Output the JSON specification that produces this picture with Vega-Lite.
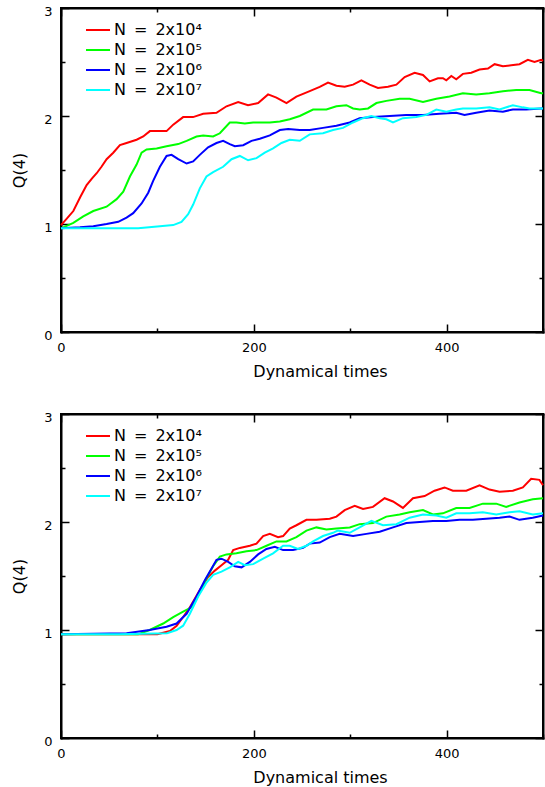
{
"$schema": "https://vega.github.io/schema/vega-lite/v6.json",
"background": "white",
"padding": {"left": 10, "top": 4, "right": 0, "bottom": 0},
"spacing": 30,
"config": {
  "font": "DejaVu Sans",
  "view": {"stroke": "black", "strokeWidth": 2},
  "axis": {"grid": false, "domainColor": "black", "domainWidth": 2, "domainCap": "square", "tickColor": "black", "tickWidth": 1.5, "labelColor": "black", "titleColor": "black", "labelFont": "DejaVu Sans", "labelFontSize": 13, "titleFont": "DejaVu Sans", "titleFontSize": 16, "titleFontWeight": "normal", "labelFlush": false, "labelOverlap": false},
  "legend": {"title": null, "symbolType": "M-2,0H2", "symbolSize": 144, "symbolStrokeWidth": 2, "labelFontSize": 16, "labelFont": "DejaVu Sans", "labelOffset": 8, "rowPadding": 4, "padding": 0, "labelColor": "black", "labelLimit": 300, "orient": "none", "legendX": 29, "legendY": 14}
},
"datasets": {
"top": [
{"s":"N\u2002=\u20022x10\u2074","t":0,"Q":0.99},{"s":"N\u2002=\u20022x10\u2074","t":6,"Q":1.05},{"s":"N\u2002=\u20022x10\u2074","t":12.8,"Q":1.12},{"s":"N\u2002=\u20022x10\u2074","t":20,"Q":1.25},{"s":"N\u2002=\u20022x10\u2074","t":26.6,"Q":1.36},{"s":"N\u2002=\u20022x10\u2074","t":32,"Q":1.42},{"s":"N\u2002=\u20022x10\u2074","t":37,"Q":1.47},{"s":"N\u2002=\u20022x10\u2074","t":42,"Q":1.53},{"s":"N\u2002=\u20022x10\u2074","t":47.3,"Q":1.6},{"s":"N\u2002=\u20022x10\u2074","t":54.2,"Q":1.66},{"s":"N\u2002=\u20022x10\u2074","t":61.1,"Q":1.73},{"s":"N\u2002=\u20022x10\u2074","t":68,"Q":1.75},{"s":"N\u2002=\u20022x10\u2074","t":78.4,"Q":1.78},{"s":"N\u2002=\u20022x10\u2074","t":85.3,"Q":1.81},{"s":"N\u2002=\u20022x10\u2074","t":92.2,"Q":1.86},{"s":"N\u2002=\u20022x10\u2074","t":99.2,"Q":1.86},{"s":"N\u2002=\u20022x10\u2074","t":109.5,"Q":1.86},{"s":"N\u2002=\u20022x10\u2074","t":116.4,"Q":1.92},{"s":"N\u2002=\u20022x10\u2074","t":126.7,"Q":1.99},{"s":"N\u2002=\u20022x10\u2074","t":137,"Q":1.99},{"s":"N\u2002=\u20022x10\u2074","t":147.5,"Q":2.02},{"s":"N\u2002=\u20022x10\u2074","t":161.3,"Q":2.03},{"s":"N\u2002=\u20022x10\u2074","t":171.7,"Q":2.09},{"s":"N\u2002=\u20022x10\u2074","t":183.8,"Q":2.13},{"s":"N\u2002=\u20022x10\u2074","t":194,"Q":2.1},{"s":"N\u2002=\u20022x10\u2074","t":204.5,"Q":2.12},{"s":"N\u2002=\u20022x10\u2074","t":214.8,"Q":2.2},{"s":"N\u2002=\u20022x10\u2074","t":223.5,"Q":2.17},{"s":"N\u2002=\u20022x10\u2074","t":233.9,"Q":2.12},{"s":"N\u2002=\u20022x10\u2074","t":244.2,"Q":2.18},{"s":"N\u2002=\u20022x10\u2074","t":258,"Q":2.23},{"s":"N\u2002=\u20022x10\u2074","t":268.4,"Q":2.27},{"s":"N\u2002=\u20022x10\u2074","t":277,"Q":2.31},{"s":"N\u2002=\u20022x10\u2074","t":285.7,"Q":2.28},{"s":"N\u2002=\u20022x10\u2074","t":294.3,"Q":2.27},{"s":"N\u2002=\u20022x10\u2074","t":303,"Q":2.29},{"s":"N\u2002=\u20022x10\u2074","t":311.6,"Q":2.33},{"s":"N\u2002=\u20022x10\u2074","t":320.2,"Q":2.29},{"s":"N\u2002=\u20022x10\u2074","t":328.8,"Q":2.26},{"s":"N\u2002=\u20022x10\u2074","t":339.2,"Q":2.27},{"s":"N\u2002=\u20022x10\u2074","t":347.9,"Q":2.29},{"s":"N\u2002=\u20022x10\u2074","t":356.5,"Q":2.36},{"s":"N\u2002=\u20022x10\u2074","t":366.8,"Q":2.4},{"s":"N\u2002=\u20022x10\u2074","t":375.5,"Q":2.38},{"s":"N\u2002=\u20022x10\u2074","t":382.4,"Q":2.32},{"s":"N\u2002=\u20022x10\u2074","t":391,"Q":2.35},{"s":"N\u2002=\u20022x10\u2074","t":396.2,"Q":2.35},{"s":"N\u2002=\u20022x10\u2074","t":399.7,"Q":2.33},{"s":"N\u2002=\u20022x10\u2074","t":404.9,"Q":2.37},{"s":"N\u2002=\u20022x10\u2074","t":410,"Q":2.34},{"s":"N\u2002=\u20022x10\u2074","t":416.9,"Q":2.39},{"s":"N\u2002=\u20022x10\u2074","t":425.6,"Q":2.4},{"s":"N\u2002=\u20022x10\u2074","t":434.2,"Q":2.43},{"s":"N\u2002=\u20022x10\u2074","t":442.9,"Q":2.44},{"s":"N\u2002=\u20022x10\u2074","t":449.8,"Q":2.48},{"s":"N\u2002=\u20022x10\u2074","t":458.4,"Q":2.46},{"s":"N\u2002=\u20022x10\u2074","t":467,"Q":2.47},{"s":"N\u2002=\u20022x10\u2074","t":475.6,"Q":2.48},{"s":"N\u2002=\u20022x10\u2074","t":484.3,"Q":2.52},{"s":"N\u2002=\u20022x10\u2074","t":491.2,"Q":2.5},{"s":"N\u2002=\u20022x10\u2074","t":498.1,"Q":2.52},{"s":"N\u2002=\u20022x10\u2074","t":500,"Q":2.51},
{"s":"N\u2002=\u20022x10\u2075","t":0,"Q":0.96},{"s":"N\u2002=\u20022x10\u2075","t":12.8,"Q":1.01},{"s":"N\u2002=\u20022x10\u2075","t":23.1,"Q":1.07},{"s":"N\u2002=\u20022x10\u2075","t":33.5,"Q":1.12},{"s":"N\u2002=\u20022x10\u2075","t":47.3,"Q":1.16},{"s":"N\u2002=\u20022x10\u2075","t":57.7,"Q":1.23},{"s":"N\u2002=\u20022x10\u2075","t":64.6,"Q":1.3},{"s":"N\u2002=\u20022x10\u2075","t":71.5,"Q":1.44},{"s":"N\u2002=\u20022x10\u2075","t":78.4,"Q":1.55},{"s":"N\u2002=\u20022x10\u2075","t":83.6,"Q":1.66},{"s":"N\u2002=\u20022x10\u2075","t":88.8,"Q":1.69},{"s":"N\u2002=\u20022x10\u2075","t":99.2,"Q":1.7},{"s":"N\u2002=\u20022x10\u2075","t":109.5,"Q":1.72},{"s":"N\u2002=\u20022x10\u2075","t":121.6,"Q":1.74},{"s":"N\u2002=\u20022x10\u2075","t":130.3,"Q":1.77},{"s":"N\u2002=\u20022x10\u2075","t":140.6,"Q":1.81},{"s":"N\u2002=\u20022x10\u2075","t":147.5,"Q":1.82},{"s":"N\u2002=\u20022x10\u2075","t":157.8,"Q":1.81},{"s":"N\u2002=\u20022x10\u2075","t":164.8,"Q":1.84},{"s":"N\u2002=\u20022x10\u2075","t":175.1,"Q":1.94},{"s":"N\u2002=\u20022x10\u2075","t":182,"Q":1.94},{"s":"N\u2002=\u20022x10\u2075","t":190.7,"Q":1.93},{"s":"N\u2002=\u20022x10\u2075","t":199.3,"Q":1.94},{"s":"N\u2002=\u20022x10\u2075","t":209.7,"Q":1.94},{"s":"N\u2002=\u20022x10\u2075","t":216.6,"Q":1.94},{"s":"N\u2002=\u20022x10\u2075","t":227,"Q":1.95},{"s":"N\u2002=\u20022x10\u2075","t":237.3,"Q":1.97},{"s":"N\u2002=\u20022x10\u2075","t":247.7,"Q":2.0},{"s":"N\u2002=\u20022x10\u2075","t":261.5,"Q":2.06},{"s":"N\u2002=\u20022x10\u2075","t":275.3,"Q":2.06},{"s":"N\u2002=\u20022x10\u2075","t":285.7,"Q":2.09},{"s":"N\u2002=\u20022x10\u2075","t":296,"Q":2.1},{"s":"N\u2002=\u20022x10\u2075","t":303,"Q":2.07},{"s":"N\u2002=\u20022x10\u2075","t":309.9,"Q":2.06},{"s":"N\u2002=\u20022x10\u2075","t":318.5,"Q":2.07},{"s":"N\u2002=\u20022x10\u2075","t":327.2,"Q":2.12},{"s":"N\u2002=\u20022x10\u2075","t":337.5,"Q":2.14},{"s":"N\u2002=\u20022x10\u2075","t":351.3,"Q":2.16},{"s":"N\u2002=\u20022x10\u2075","t":361.7,"Q":2.16},{"s":"N\u2002=\u20022x10\u2075","t":375.5,"Q":2.13},{"s":"N\u2002=\u20022x10\u2075","t":389.3,"Q":2.16},{"s":"N\u2002=\u20022x10\u2075","t":403.1,"Q":2.18},{"s":"N\u2002=\u20022x10\u2075","t":416.9,"Q":2.21},{"s":"N\u2002=\u20022x10\u2075","t":430.7,"Q":2.2},{"s":"N\u2002=\u20022x10\u2075","t":444.5,"Q":2.21},{"s":"N\u2002=\u20022x10\u2075","t":458.4,"Q":2.23},{"s":"N\u2002=\u20022x10\u2075","t":472.2,"Q":2.24},{"s":"N\u2002=\u20022x10\u2075","t":486,"Q":2.24},{"s":"N\u2002=\u20022x10\u2075","t":498.1,"Q":2.21},{"s":"N\u2002=\u20022x10\u2075","t":500,"Q":2.21},
{"s":"N\u2002=\u20022x10\u2076","t":0,"Q":0.96},{"s":"N\u2002=\u20022x10\u2076","t":19.7,"Q":0.97},{"s":"N\u2002=\u20022x10\u2076","t":33.5,"Q":0.98},{"s":"N\u2002=\u20022x10\u2076","t":47.3,"Q":1.0},{"s":"N\u2002=\u20022x10\u2076","t":59.4,"Q":1.02},{"s":"N\u2002=\u20022x10\u2076","t":68,"Q":1.06},{"s":"N\u2002=\u20022x10\u2076","t":74.9,"Q":1.1},{"s":"N\u2002=\u20022x10\u2076","t":83.6,"Q":1.19},{"s":"N\u2002=\u20022x10\u2076","t":90.5,"Q":1.29},{"s":"N\u2002=\u20022x10\u2076","t":95.6,"Q":1.4},{"s":"N\u2002=\u20022x10\u2076","t":102.6,"Q":1.53},{"s":"N\u2002=\u20022x10\u2076","t":109.5,"Q":1.63},{"s":"N\u2002=\u20022x10\u2076","t":114.7,"Q":1.64},{"s":"N\u2002=\u20022x10\u2076","t":121.6,"Q":1.6},{"s":"N\u2002=\u20022x10\u2076","t":130.3,"Q":1.56},{"s":"N\u2002=\u20022x10\u2076","t":137.1,"Q":1.58},{"s":"N\u2002=\u20022x10\u2076","t":144,"Q":1.64},{"s":"N\u2002=\u20022x10\u2076","t":152.6,"Q":1.71},{"s":"N\u2002=\u20022x10\u2076","t":161.3,"Q":1.75},{"s":"N\u2002=\u20022x10\u2076","t":168.2,"Q":1.77},{"s":"N\u2002=\u20022x10\u2076","t":175.1,"Q":1.74},{"s":"N\u2002=\u20022x10\u2076","t":180.3,"Q":1.72},{"s":"N\u2002=\u20022x10\u2076","t":189,"Q":1.73},{"s":"N\u2002=\u20022x10\u2076","t":197.6,"Q":1.77},{"s":"N\u2002=\u20022x10\u2076","t":206.2,"Q":1.79},{"s":"N\u2002=\u20022x10\u2076","t":216.6,"Q":1.82},{"s":"N\u2002=\u20022x10\u2076","t":227,"Q":1.87},{"s":"N\u2002=\u20022x10\u2076","t":235.6,"Q":1.88},{"s":"N\u2002=\u20022x10\u2076","t":247.7,"Q":1.87},{"s":"N\u2002=\u20022x10\u2076","t":258,"Q":1.87},{"s":"N\u2002=\u20022x10\u2076","t":271.8,"Q":1.89},{"s":"N\u2002=\u20022x10\u2076","t":285.7,"Q":1.91},{"s":"N\u2002=\u20022x10\u2076","t":299.5,"Q":1.94},{"s":"N\u2002=\u20022x10\u2076","t":309.8,"Q":1.98},{"s":"N\u2002=\u20022x10\u2076","t":323.6,"Q":1.99},{"s":"N\u2002=\u20022x10\u2076","t":340.9,"Q":2.0},{"s":"N\u2002=\u20022x10\u2076","t":358.2,"Q":2.01},{"s":"N\u2002=\u20022x10\u2076","t":375.5,"Q":2.01},{"s":"N\u2002=\u20022x10\u2076","t":392.7,"Q":2.02},{"s":"N\u2002=\u20022x10\u2076","t":410,"Q":2.03},{"s":"N\u2002=\u20022x10\u2076","t":418.6,"Q":2.01},{"s":"N\u2002=\u20022x10\u2076","t":430.7,"Q":2.03},{"s":"N\u2002=\u20022x10\u2076","t":444.5,"Q":2.05},{"s":"N\u2002=\u20022x10\u2076","t":458.4,"Q":2.04},{"s":"N\u2002=\u20022x10\u2076","t":468.7,"Q":2.06},{"s":"N\u2002=\u20022x10\u2076","t":482.6,"Q":2.06},{"s":"N\u2002=\u20022x10\u2076","t":498.1,"Q":2.07},{"s":"N\u2002=\u20022x10\u2076","t":500,"Q":2.07},
{"s":"N\u2002=\u20022x10\u2077","t":0,"Q":0.96},{"s":"N\u2002=\u20022x10\u2077","t":40,"Q":0.96},{"s":"N\u2002=\u20022x10\u2077","t":80,"Q":0.96},{"s":"N\u2002=\u20022x10\u2077","t":102.6,"Q":0.98},{"s":"N\u2002=\u20022x10\u2077","t":116.4,"Q":0.99},{"s":"N\u2002=\u20022x10\u2077","t":125,"Q":1.02},{"s":"N\u2002=\u20022x10\u2077","t":131.9,"Q":1.09},{"s":"N\u2002=\u20022x10\u2077","t":137.1,"Q":1.18},{"s":"N\u2002=\u20022x10\u2077","t":144,"Q":1.33},{"s":"N\u2002=\u20022x10\u2077","t":150.9,"Q":1.44},{"s":"N\u2002=\u20022x10\u2077","t":157.8,"Q":1.48},{"s":"N\u2002=\u20022x10\u2077","t":168.2,"Q":1.53},{"s":"N\u2002=\u20022x10\u2077","t":176.9,"Q":1.6},{"s":"N\u2002=\u20022x10\u2077","t":185.5,"Q":1.63},{"s":"N\u2002=\u20022x10\u2077","t":194.1,"Q":1.59},{"s":"N\u2002=\u20022x10\u2077","t":202.8,"Q":1.61},{"s":"N\u2002=\u20022x10\u2077","t":211.4,"Q":1.66},{"s":"N\u2002=\u20022x10\u2077","t":220,"Q":1.7},{"s":"N\u2002=\u20022x10\u2077","t":228.7,"Q":1.75},{"s":"N\u2002=\u20022x10\u2077","t":237.3,"Q":1.78},{"s":"N\u2002=\u20022x10\u2077","t":247.7,"Q":1.77},{"s":"N\u2002=\u20022x10\u2077","t":258,"Q":1.83},{"s":"N\u2002=\u20022x10\u2077","t":271.8,"Q":1.84},{"s":"N\u2002=\u20022x10\u2077","t":282.2,"Q":1.87},{"s":"N\u2002=\u20022x10\u2077","t":292.5,"Q":1.89},{"s":"N\u2002=\u20022x10\u2077","t":302.9,"Q":1.94},{"s":"N\u2002=\u20022x10\u2077","t":313.3,"Q":1.98},{"s":"N\u2002=\u20022x10\u2077","t":321.9,"Q":2.0},{"s":"N\u2002=\u20022x10\u2077","t":330.6,"Q":1.98},{"s":"N\u2002=\u20022x10\u2077","t":337.5,"Q":1.97},{"s":"N\u2002=\u20022x10\u2077","t":344.4,"Q":1.94},{"s":"N\u2002=\u20022x10\u2077","t":354.7,"Q":1.98},{"s":"N\u2002=\u20022x10\u2077","t":368.6,"Q":1.99},{"s":"N\u2002=\u20022x10\u2077","t":379,"Q":2.01},{"s":"N\u2002=\u20022x10\u2077","t":389.3,"Q":2.06},{"s":"N\u2002=\u20022x10\u2077","t":399.7,"Q":2.04},{"s":"N\u2002=\u20022x10\u2077","t":410,"Q":2.06},{"s":"N\u2002=\u20022x10\u2077","t":416.9,"Q":2.07},{"s":"N\u2002=\u20022x10\u2077","t":430.7,"Q":2.07},{"s":"N\u2002=\u20022x10\u2077","t":444.5,"Q":2.08},{"s":"N\u2002=\u20022x10\u2077","t":454.9,"Q":2.06},{"s":"N\u2002=\u20022x10\u2077","t":468.7,"Q":2.1},{"s":"N\u2002=\u20022x10\u2077","t":479.1,"Q":2.08},{"s":"N\u2002=\u20022x10\u2077","t":486,"Q":2.07},{"s":"N\u2002=\u20022x10\u2077","t":498.1,"Q":2.07},{"s":"N\u2002=\u20022x10\u2077","t":500,"Q":2.07}
],
"bottom": [
{"s":"N\u2002=\u20022x10\u2074","t":0,"Q":0.96},{"s":"N\u2002=\u20022x10\u2074","t":100,"Q":0.96},{"s":"N\u2002=\u20022x10\u2074","t":113,"Q":0.99},{"s":"N\u2002=\u20022x10\u2074","t":120,"Q":1.04},{"s":"N\u2002=\u20022x10\u2074","t":126.7,"Q":1.12},{"s":"N\u2002=\u20022x10\u2074","t":133.7,"Q":1.21},{"s":"N\u2002=\u20022x10\u2074","t":144,"Q":1.37},{"s":"N\u2002=\u20022x10\u2074","t":152.6,"Q":1.49},{"s":"N\u2002=\u20022x10\u2074","t":159.6,"Q":1.55},{"s":"N\u2002=\u20022x10\u2074","t":166.5,"Q":1.6},{"s":"N\u2002=\u20022x10\u2074","t":173.4,"Q":1.65},{"s":"N\u2002=\u20022x10\u2074","t":178.6,"Q":1.74},{"s":"N\u2002=\u20022x10\u2074","t":185.5,"Q":1.76},{"s":"N\u2002=\u20022x10\u2074","t":195.9,"Q":1.78},{"s":"N\u2002=\u20022x10\u2074","t":202.8,"Q":1.8},{"s":"N\u2002=\u20022x10\u2074","t":209.7,"Q":1.87},{"s":"N\u2002=\u20022x10\u2074","t":216.6,"Q":1.89},{"s":"N\u2002=\u20022x10\u2074","t":225.2,"Q":1.86},{"s":"N\u2002=\u20022x10\u2074","t":230.4,"Q":1.87},{"s":"N\u2002=\u20022x10\u2074","t":237.3,"Q":1.94},{"s":"N\u2002=\u20022x10\u2074","t":244.2,"Q":1.97},{"s":"N\u2002=\u20022x10\u2074","t":254.6,"Q":2.02},{"s":"N\u2002=\u20022x10\u2074","t":265,"Q":2.02},{"s":"N\u2002=\u20022x10\u2074","t":278.8,"Q":2.03},{"s":"N\u2002=\u20022x10\u2074","t":285.7,"Q":2.05},{"s":"N\u2002=\u20022x10\u2074","t":294.3,"Q":2.11},{"s":"N\u2002=\u20022x10\u2074","t":304.7,"Q":2.15},{"s":"N\u2002=\u20022x10\u2074","t":313.3,"Q":2.12},{"s":"N\u2002=\u20022x10\u2074","t":323.6,"Q":2.14},{"s":"N\u2002=\u20022x10\u2074","t":335.7,"Q":2.22},{"s":"N\u2002=\u20022x10\u2074","t":344.4,"Q":2.19},{"s":"N\u2002=\u20022x10\u2074","t":354.7,"Q":2.13},{"s":"N\u2002=\u20022x10\u2074","t":365.1,"Q":2.22},{"s":"N\u2002=\u20022x10\u2074","t":377.2,"Q":2.24},{"s":"N\u2002=\u20022x10\u2074","t":387.5,"Q":2.29},{"s":"N\u2002=\u20022x10\u2074","t":397.9,"Q":2.32},{"s":"N\u2002=\u20022x10\u2074","t":406.5,"Q":2.29},{"s":"N\u2002=\u20022x10\u2074","t":420.4,"Q":2.29},{"s":"N\u2002=\u20022x10\u2074","t":434.2,"Q":2.34},{"s":"N\u2002=\u20022x10\u2074","t":444.5,"Q":2.3},{"s":"N\u2002=\u20022x10\u2074","t":454.9,"Q":2.28},{"s":"N\u2002=\u20022x10\u2074","t":468.7,"Q":2.29},{"s":"N\u2002=\u20022x10\u2074","t":479.1,"Q":2.32},{"s":"N\u2002=\u20022x10\u2074","t":487.7,"Q":2.4},{"s":"N\u2002=\u20022x10\u2074","t":496.3,"Q":2.39},{"s":"N\u2002=\u20022x10\u2074","t":500,"Q":2.34},
{"s":"N\u2002=\u20022x10\u2075","t":0,"Q":0.96},{"s":"N\u2002=\u20022x10\u2075","t":80,"Q":0.96},{"s":"N\u2002=\u20022x10\u2075","t":92,"Q":1.0},{"s":"N\u2002=\u20022x10\u2075","t":106,"Q":1.06},{"s":"N\u2002=\u20022x10\u2075","t":116.4,"Q":1.12},{"s":"N\u2002=\u20022x10\u2075","t":126.7,"Q":1.17},{"s":"N\u2002=\u20022x10\u2075","t":135.3,"Q":1.21},{"s":"N\u2002=\u20022x10\u2075","t":144,"Q":1.35},{"s":"N\u2002=\u20022x10\u2075","t":151,"Q":1.48},{"s":"N\u2002=\u20022x10\u2075","t":157.8,"Q":1.59},{"s":"N\u2002=\u20022x10\u2075","t":164.8,"Q":1.68},{"s":"N\u2002=\u20022x10\u2075","t":171.7,"Q":1.7},{"s":"N\u2002=\u20022x10\u2075","t":182,"Q":1.71},{"s":"N\u2002=\u20022x10\u2075","t":192.4,"Q":1.73},{"s":"N\u2002=\u20022x10\u2075","t":202.8,"Q":1.74},{"s":"N\u2002=\u20022x10\u2075","t":213.2,"Q":1.78},{"s":"N\u2002=\u20022x10\u2075","t":223.5,"Q":1.82},{"s":"N\u2002=\u20022x10\u2075","t":233.9,"Q":1.82},{"s":"N\u2002=\u20022x10\u2075","t":244.2,"Q":1.86},{"s":"N\u2002=\u20022x10\u2075","t":254.6,"Q":1.92},{"s":"N\u2002=\u20022x10\u2075","t":265,"Q":1.95},{"s":"N\u2002=\u20022x10\u2075","t":275.3,"Q":1.93},{"s":"N\u2002=\u20022x10\u2075","t":285.7,"Q":1.94},{"s":"N\u2002=\u20022x10\u2075","t":299.5,"Q":1.95},{"s":"N\u2002=\u20022x10\u2075","t":309.8,"Q":1.98},{"s":"N\u2002=\u20022x10\u2075","t":323.6,"Q":1.99},{"s":"N\u2002=\u20022x10\u2075","t":337.5,"Q":2.05},{"s":"N\u2002=\u20022x10\u2075","t":351.3,"Q":2.07},{"s":"N\u2002=\u20022x10\u2075","t":361.7,"Q":2.09},{"s":"N\u2002=\u20022x10\u2075","t":375.5,"Q":2.11},{"s":"N\u2002=\u20022x10\u2075","t":385.8,"Q":2.07},{"s":"N\u2002=\u20022x10\u2075","t":396.2,"Q":2.08},{"s":"N\u2002=\u20022x10\u2075","t":410,"Q":2.13},{"s":"N\u2002=\u20022x10\u2075","t":423.8,"Q":2.13},{"s":"N\u2002=\u20022x10\u2075","t":437.6,"Q":2.17},{"s":"N\u2002=\u20022x10\u2075","t":451.5,"Q":2.17},{"s":"N\u2002=\u20022x10\u2075","t":461.8,"Q":2.14},{"s":"N\u2002=\u20022x10\u2075","t":475.6,"Q":2.18},{"s":"N\u2002=\u20022x10\u2075","t":489.4,"Q":2.21},{"s":"N\u2002=\u20022x10\u2075","t":500,"Q":2.22},
{"s":"N\u2002=\u20022x10\u2076","t":0,"Q":0.96},{"s":"N\u2002=\u20022x10\u2076","t":68,"Q":0.97},{"s":"N\u2002=\u20022x10\u2076","t":92,"Q":1.0},{"s":"N\u2002=\u20022x10\u2076","t":109.5,"Q":1.03},{"s":"N\u2002=\u20022x10\u2076","t":119.9,"Q":1.06},{"s":"N\u2002=\u20022x10\u2076","t":130.3,"Q":1.15},{"s":"N\u2002=\u20022x10\u2076","t":140.6,"Q":1.31},{"s":"N\u2002=\u20022x10\u2076","t":149.2,"Q":1.46},{"s":"N\u2002=\u20022x10\u2076","t":156.2,"Q":1.57},{"s":"N\u2002=\u20022x10\u2076","t":161.3,"Q":1.65},{"s":"N\u2002=\u20022x10\u2076","t":166.5,"Q":1.66},{"s":"N\u2002=\u20022x10\u2076","t":173.4,"Q":1.63},{"s":"N\u2002=\u20022x10\u2076","t":180.3,"Q":1.59},{"s":"N\u2002=\u20022x10\u2076","t":187.3,"Q":1.58},{"s":"N\u2002=\u20022x10\u2076","t":195.9,"Q":1.63},{"s":"N\u2002=\u20022x10\u2076","t":204.5,"Q":1.7},{"s":"N\u2002=\u20022x10\u2076","t":213.1,"Q":1.75},{"s":"N\u2002=\u20022x10\u2076","t":221.8,"Q":1.77},{"s":"N\u2002=\u20022x10\u2076","t":230.4,"Q":1.74},{"s":"N\u2002=\u20022x10\u2076","t":240.7,"Q":1.74},{"s":"N\u2002=\u20022x10\u2076","t":251.1,"Q":1.76},{"s":"N\u2002=\u20022x10\u2076","t":258,"Q":1.8},{"s":"N\u2002=\u20022x10\u2076","t":268.4,"Q":1.81},{"s":"N\u2002=\u20022x10\u2076","t":278.8,"Q":1.86},{"s":"N\u2002=\u20022x10\u2076","t":289.1,"Q":1.89},{"s":"N\u2002=\u20022x10\u2076","t":303,"Q":1.87},{"s":"N\u2002=\u20022x10\u2076","t":316.8,"Q":1.89},{"s":"N\u2002=\u20022x10\u2076","t":330.6,"Q":1.91},{"s":"N\u2002=\u20022x10\u2076","t":344.4,"Q":1.95},{"s":"N\u2002=\u20022x10\u2076","t":358.2,"Q":1.99},{"s":"N\u2002=\u20022x10\u2076","t":372,"Q":2.0},{"s":"N\u2002=\u20022x10\u2076","t":385.8,"Q":2.01},{"s":"N\u2002=\u20022x10\u2076","t":399.7,"Q":2.01},{"s":"N\u2002=\u20022x10\u2076","t":413.5,"Q":2.02},{"s":"N\u2002=\u20022x10\u2076","t":427.3,"Q":2.02},{"s":"N\u2002=\u20022x10\u2076","t":441.1,"Q":2.03},{"s":"N\u2002=\u20022x10\u2076","t":454.9,"Q":2.04},{"s":"N\u2002=\u20022x10\u2076","t":465.3,"Q":2.05},{"s":"N\u2002=\u20022x10\u2076","t":475.6,"Q":2.02},{"s":"N\u2002=\u20022x10\u2076","t":489.4,"Q":2.04},{"s":"N\u2002=\u20022x10\u2076","t":500,"Q":2.06},
{"s":"N\u2002=\u20022x10\u2077","t":0,"Q":0.96},{"s":"N\u2002=\u20022x10\u2077","t":60,"Q":0.96},{"s":"N\u2002=\u20022x10\u2077","t":110,"Q":0.97},{"s":"N\u2002=\u20022x10\u2077","t":119.9,"Q":1.0},{"s":"N\u2002=\u20022x10\u2077","t":126.7,"Q":1.04},{"s":"N\u2002=\u20022x10\u2077","t":133.7,"Q":1.15},{"s":"N\u2002=\u20022x10\u2077","t":142.3,"Q":1.31},{"s":"N\u2002=\u20022x10\u2077","t":151,"Q":1.44},{"s":"N\u2002=\u20022x10\u2077","t":157.8,"Q":1.51},{"s":"N\u2002=\u20022x10\u2077","t":166.5,"Q":1.54},{"s":"N\u2002=\u20022x10\u2077","t":175.1,"Q":1.58},{"s":"N\u2002=\u20022x10\u2077","t":183.8,"Q":1.63},{"s":"N\u2002=\u20022x10\u2077","t":190.7,"Q":1.6},{"s":"N\u2002=\u20022x10\u2077","t":199.3,"Q":1.61},{"s":"N\u2002=\u20022x10\u2077","t":209.7,"Q":1.66},{"s":"N\u2002=\u20022x10\u2077","t":220,"Q":1.71},{"s":"N\u2002=\u20022x10\u2077","t":230.4,"Q":1.78},{"s":"N\u2002=\u20022x10\u2077","t":237.3,"Q":1.78},{"s":"N\u2002=\u20022x10\u2077","t":245.9,"Q":1.75},{"s":"N\u2002=\u20022x10\u2077","t":254.6,"Q":1.78},{"s":"N\u2002=\u20022x10\u2077","t":261.5,"Q":1.82},{"s":"N\u2002=\u20022x10\u2077","t":271.8,"Q":1.87},{"s":"N\u2002=\u20022x10\u2077","t":282.2,"Q":1.9},{"s":"N\u2002=\u20022x10\u2077","t":287,"Q":1.92},{"s":"N\u2002=\u20022x10\u2077","t":299.5,"Q":1.9},{"s":"N\u2002=\u20022x10\u2077","t":309.8,"Q":1.95},{"s":"N\u2002=\u20022x10\u2077","t":322,"Q":2.01},{"s":"N\u2002=\u20022x10\u2077","t":334,"Q":1.97},{"s":"N\u2002=\u20022x10\u2077","t":347.9,"Q":1.98},{"s":"N\u2002=\u20022x10\u2077","t":361.7,"Q":2.04},{"s":"N\u2002=\u20022x10\u2077","t":375.5,"Q":2.07},{"s":"N\u2002=\u20022x10\u2077","t":389.3,"Q":2.06},{"s":"N\u2002=\u20022x10\u2077","t":399.7,"Q":2.04},{"s":"N\u2002=\u20022x10\u2077","t":410,"Q":2.08},{"s":"N\u2002=\u20022x10\u2077","t":423.8,"Q":2.08},{"s":"N\u2002=\u20022x10\u2077","t":437.6,"Q":2.09},{"s":"N\u2002=\u20022x10\u2077","t":451.5,"Q":2.07},{"s":"N\u2002=\u20022x10\u2077","t":465.3,"Q":2.09},{"s":"N\u2002=\u20022x10\u2077","t":475.6,"Q":2.1},{"s":"N\u2002=\u20022x10\u2077","t":489.4,"Q":2.07},{"s":"N\u2002=\u20022x10\u2077","t":500,"Q":2.08}
]
},
"vconcat": [
{
 "width": 482, "height": 324,
 "data": {"name": "top"},
 "resolve": {"axis": {"x": "independent", "y": "independent"}},
 "layer": [
  {"mark": {"type": "line", "strokeWidth": 2},
   "encoding": {
    "x": {"field": "t", "type": "quantitative", "scale": {"domain": [0, 500], "nice": false, "zero": false},
          "axis": {"orient": "bottom", "values": [0, 100, 200, 300, 400, 500], "labelExpr": "datum.value % 200 == 0 && datum.value < 500 ? format(datum.value, 'd') : ''", "tickSize": {"condition": {"test": "datum.value % 200 != 0", "value": -4}, "value": -8}, "labelPadding": 17, "title": "Dynamical times", "titlePadding": 5, "titleX": 259, "titleAnchor": "middle"}},
    "y": {"field": "Q", "type": "quantitative", "scale": {"domain": [0, 3], "nice": false, "zero": false},
          "axis": {"orient": "left", "values": [0, 0.5, 1, 1.5, 2, 2.5, 3], "labelExpr": "datum.value % 1 == 0 ? format(datum.value, 'd') : ''", "tickSize": {"condition": {"test": "datum.value % 1 != 0", "value": -4}, "value": -8}, "labelPadding": 17, "labelOffset": 3, "title": "Q(4)", "titlePadding": 16}},
    "color": {"field": "s", "type": "nominal", "scale": {"domain": ["N\u2002=\u20022x10\u2074", "N\u2002=\u20022x10\u2075", "N\u2002=\u20022x10\u2076", "N\u2002=\u20022x10\u2077"], "range": ["#ff0000", "#00ff00", "#0000ff", "#00ffff"]}, "legend": {}}
   }},
  {"mark": {"type": "point", "opacity": 0},
   "encoding": {
    "x": {"field": "t", "type": "quantitative", "scale": {"domain": [0, 500], "nice": false, "zero": false},
          "axis": {"orient": "top", "values": [0, 100, 200, 300, 400, 500], "labels": false, "title": null, "tickSize": {"condition": {"test": "datum.value % 200 != 0", "value": -4}, "value": -8}}},
    "y": {"field": "Q", "type": "quantitative", "scale": {"domain": [0, 3], "nice": false, "zero": false},
          "axis": {"orient": "right", "values": [0, 0.5, 1, 1.5, 2, 2.5, 3], "labels": false, "title": null, "tickSize": {"condition": {"test": "datum.value % 1 != 0", "value": -4}, "value": -8}}}
   }}
 ]
},
{
 "width": 482, "height": 324,
 "data": {"name": "bottom"},
 "resolve": {"axis": {"x": "independent", "y": "independent"}},
 "layer": [
  {"mark": {"type": "line", "strokeWidth": 2},
   "encoding": {
    "x": {"field": "t", "type": "quantitative", "scale": {"domain": [0, 500], "nice": false, "zero": false},
          "axis": {"orient": "bottom", "values": [0, 100, 200, 300, 400, 500], "labelExpr": "datum.value % 200 == 0 && datum.value < 500 ? format(datum.value, 'd') : ''", "tickSize": {"condition": {"test": "datum.value % 200 != 0", "value": -4}, "value": -8}, "labelPadding": 17, "title": "Dynamical times", "titlePadding": 5, "titleX": 259, "titleAnchor": "middle"}},
    "y": {"field": "Q", "type": "quantitative", "scale": {"domain": [0, 3], "nice": false, "zero": false},
          "axis": {"orient": "left", "values": [0, 0.5, 1, 1.5, 2, 2.5, 3], "labelExpr": "datum.value % 1 == 0 ? format(datum.value, 'd') : ''", "tickSize": {"condition": {"test": "datum.value % 1 != 0", "value": -4}, "value": -8}, "labelPadding": 17, "labelOffset": 3, "title": "Q(4)", "titlePadding": 16}},
    "color": {"field": "s", "type": "nominal", "scale": {"domain": ["N\u2002=\u20022x10\u2074", "N\u2002=\u20022x10\u2075", "N\u2002=\u20022x10\u2076", "N\u2002=\u20022x10\u2077"], "range": ["#ff0000", "#00ff00", "#0000ff", "#00ffff"]}, "legend": {}}
   }},
  {"mark": {"type": "point", "opacity": 0},
   "encoding": {
    "x": {"field": "t", "type": "quantitative", "scale": {"domain": [0, 500], "nice": false, "zero": false},
          "axis": {"orient": "top", "values": [0, 100, 200, 300, 400, 500], "labels": false, "title": null, "tickSize": {"condition": {"test": "datum.value % 200 != 0", "value": -4}, "value": -8}}},
    "y": {"field": "Q", "type": "quantitative", "scale": {"domain": [0, 3], "nice": false, "zero": false},
          "axis": {"orient": "right", "values": [0, 0.5, 1, 1.5, 2, 2.5, 3], "labels": false, "title": null, "tickSize": {"condition": {"test": "datum.value % 1 != 0", "value": -4}, "value": -8}}}
   }}
 ]
}
],
"resolve": {"legend": {"color": "independent"}}
}
